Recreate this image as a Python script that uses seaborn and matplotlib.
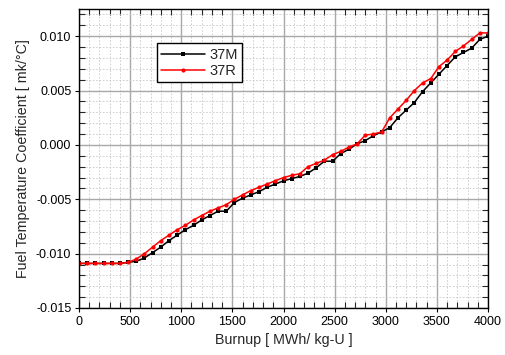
import numpy as np
import pandas as pd
import matplotlib
matplotlib.use("Agg")
import matplotlib.pyplot as plt
from matplotlib.ticker import MultipleLocator, FormatStrFormatter
import seaborn as sns

burnup = list(range(0, 4001, 80))

coef_37M = [-0.0109, -0.0109, -0.0109, -0.0109, -0.0109, -0.0109,
            -0.0108, -0.0107, -0.0104, -0.0099, -0.0094, -0.0088,
            -0.0083, -0.0078, -0.0074, -0.0069, -0.0065, -0.0061,
            -0.0061, -0.0053, -0.0049, -0.0046, -0.0043, -0.0039,
            -0.0036, -0.0033, -0.0031, -0.0029, -0.0026, -0.0021,
            -0.0015, -0.0015, -0.0008, -0.0004, 0.0001, 0.0004,
            0.00085, 0.0012, 0.0016, 0.0025, 0.0032, 0.0039,
            0.0049, 0.0057, 0.0065, 0.0073, 0.0081, 0.0085,
            0.0089, 0.0097, 0.0100]

coef_37R = [-0.0109, -0.0109, -0.0109, -0.0109, -0.0109, -0.0109,
            -0.0108, -0.0105, -0.0100, -0.0094, -0.0088, -0.0083,
            -0.0078, -0.0074, -0.0069, -0.0065, -0.0061, -0.0058,
            -0.0055, -0.0050, -0.0046, -0.0042, -0.0039, -0.0036,
            -0.0033, -0.0030, -0.0028, -0.00265, -0.0020, -0.0017,
            -0.0014, -0.0009, -0.0006, -0.0002, 0.0001, 0.0009,
            0.0010, 0.0012, 0.0025, 0.0033, 0.0041, 0.0050,
            0.0057, 0.0061, 0.0072, 0.0078, 0.0086, 0.0091,
            0.0097, 0.0103, 0.0103]

series_names = ["37M", "37R"]

df = pd.DataFrame({
    "burnup": burnup * 2,
    "coef": coef_37M + coef_37R,
    "series": [series_names[0]] * len(burnup) + [series_names[1]] * len(burnup),
})

sns.set_style("white")
plt.rcParams["font.family"] = ["Liberation Sans", "DejaVu Sans"]

fig = plt.figure(figsize=(5.06, 3.55), dpi=100)
ax = fig.add_axes([79 / 506, 1 - 308 / 355, 409 / 506, 299 / 355])

styles = {"37M": dict(color="black", marker="s", markersize=2.6),
          "37R": dict(color="#ff0000", marker="o", markersize=3.0)}
for name in series_names:
    sub = df[df["series"] == name]
    sns.lineplot(data=sub, x="burnup", y="coef", ax=ax, label=name,
                 color=styles[name]["color"], marker=styles[name]["marker"],
                 markersize=styles[name]["markersize"], markeredgewidth=0,
                 linewidth=1.1, estimator=None, sort=False)

ax.set_xlim(0, 4000)
ax.set_ylim(-0.015, 0.0125)
ax.xaxis.set_major_locator(MultipleLocator(500))
ax.xaxis.set_minor_locator(MultipleLocator(100))
ax.yaxis.set_major_locator(MultipleLocator(0.005))
ax.yaxis.set_minor_locator(MultipleLocator(0.001))
ax.yaxis.set_major_formatter(FormatStrFormatter("%.3f"))

ax.grid(which="major", color="#a8a8a8", linestyle="-", linewidth=1.0)
ax.grid(which="minor", color="#c8c8c8", linestyle=(0, (2, 2)), linewidth=0.6)
ax.set_axisbelow(True)

ax.tick_params(which="major", direction="out", length=3, width=0.8,
               labelsize=9, colors="black", bottom=True, left=True, pad=2.5)
ax.tick_params(which="minor", direction="in", length=4, width=0.8,
               bottom=True, left=True, top=True, right=True)
for s in ax.spines.values():
    s.set_color("black")
    s.set_linewidth(1.0)

ax.set_xlabel("Burnup [ MWh/ kg-U ]", fontsize=10.3, labelpad=4)
ax.set_ylabel("Fuel Temperature Coefficient [ mk/\u00b0C]", fontsize=10.3, labelpad=4)

leg = ax.legend(loc="upper left", bbox_to_anchor=(0.19, 0.885), fontsize=10.5,
                frameon=True, fancybox=False, edgecolor="black", framealpha=1,
                handlelength=3.0, borderpad=0.3, labelspacing=0.15,
                handletextpad=0.3, borderaxespad=0)
leg.get_frame().set_linewidth(1.0)

fig.savefig("out.png", dpi=100)
